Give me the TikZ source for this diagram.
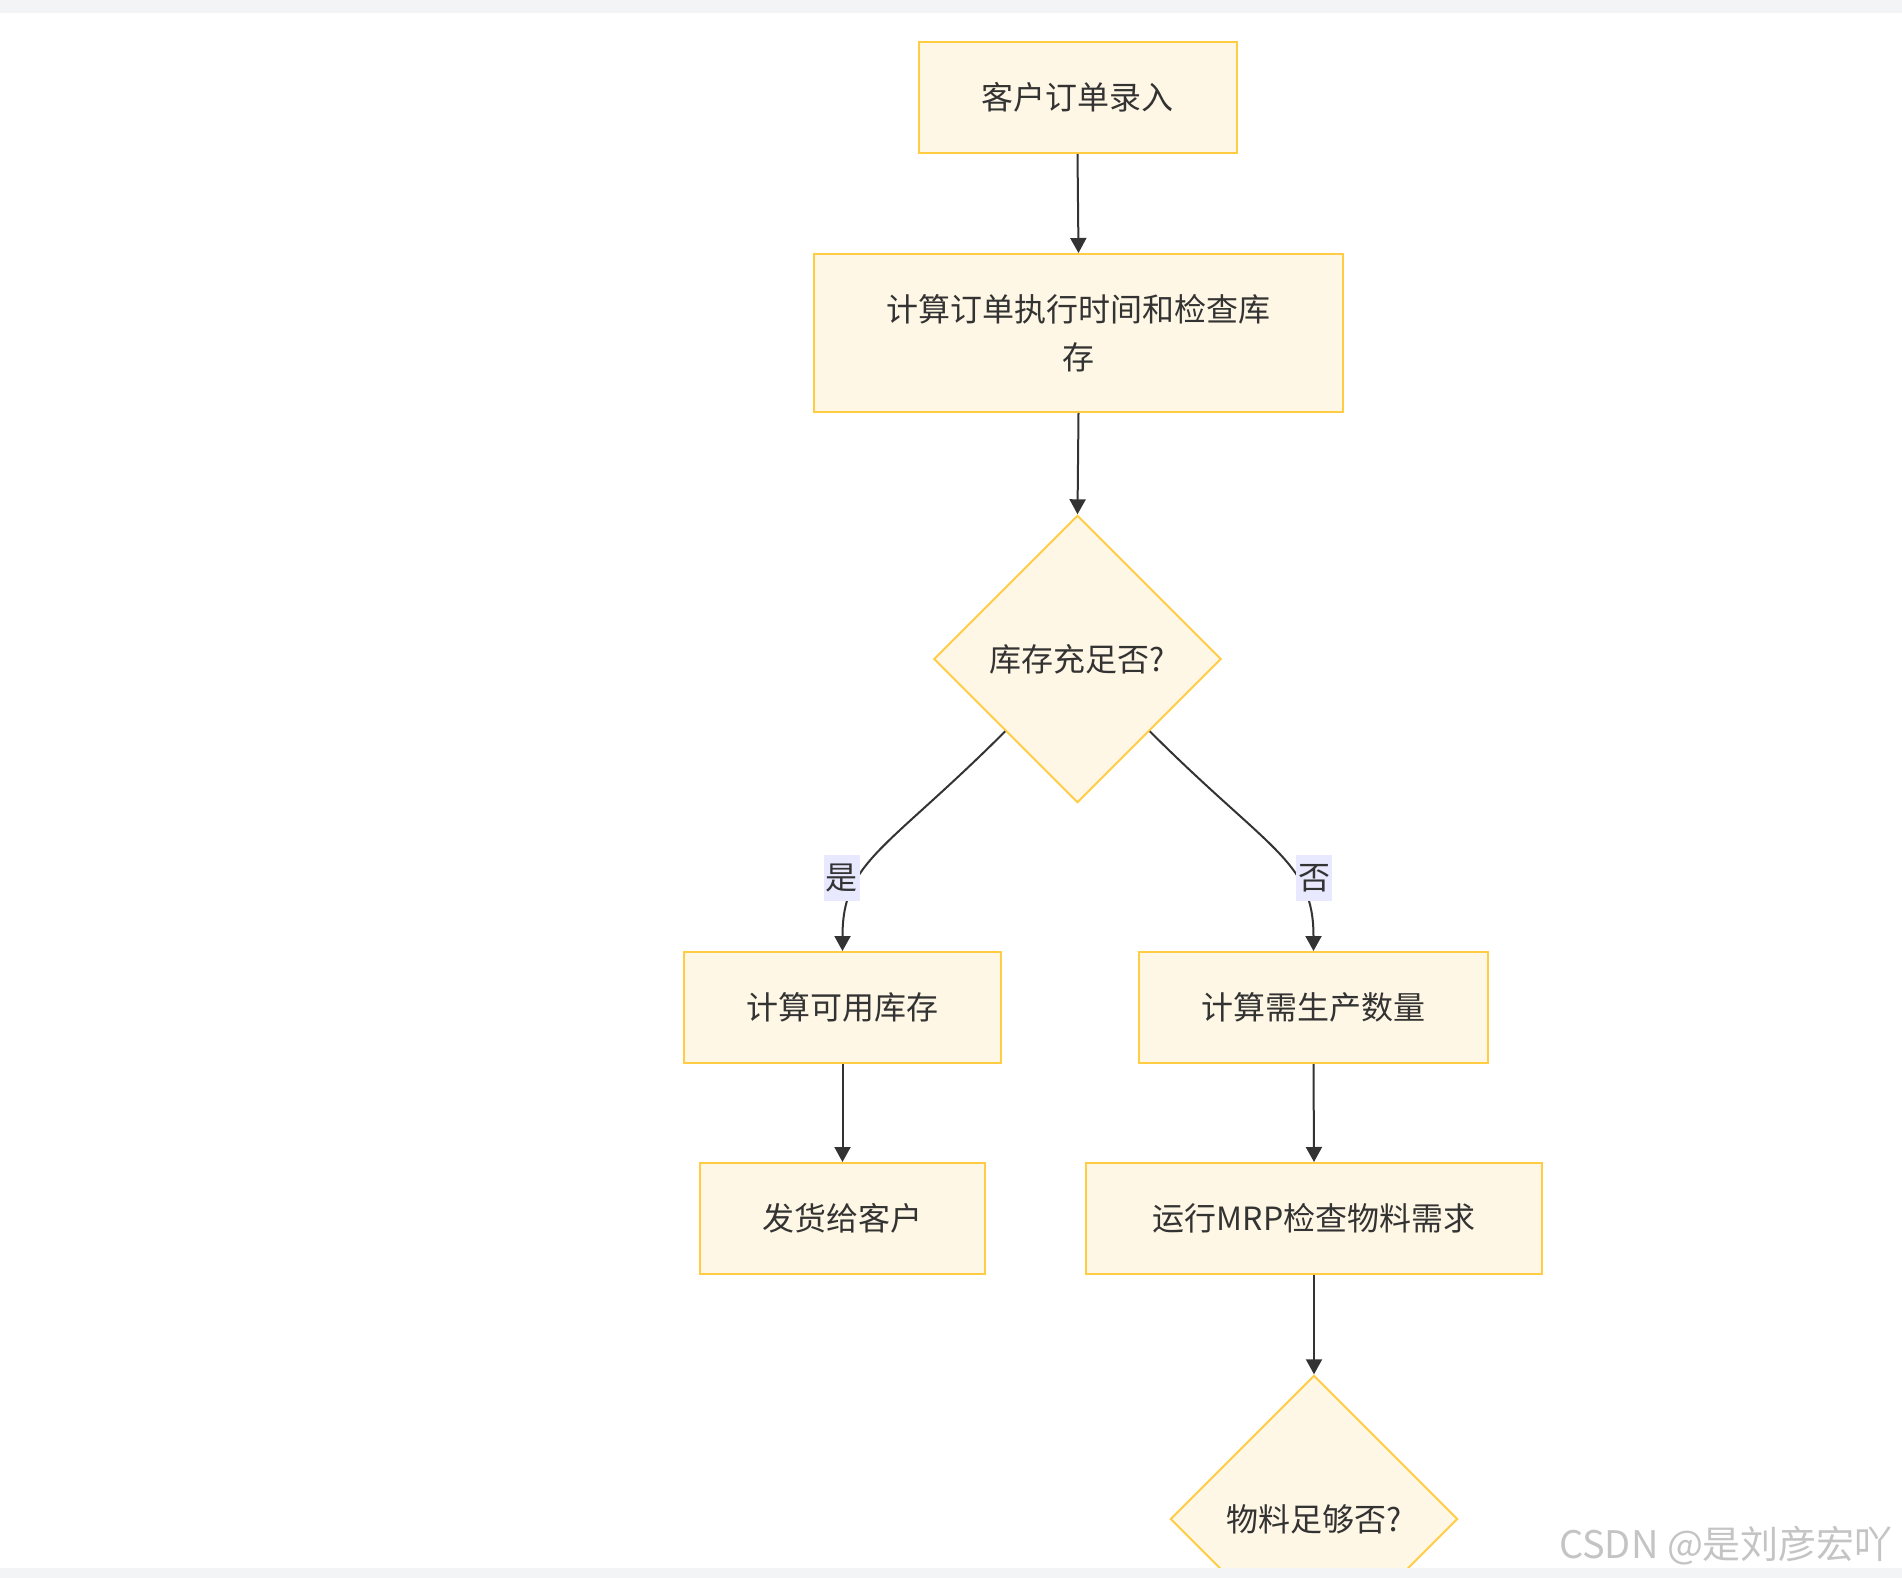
\documentclass[tikz,border=0pt]{standalone}
\usepackage{fontspec}
\setmainfont{Noto Sans CJK SC}
\usetikzlibrary{arrows.meta, shapes.geometric}
\definecolor{boxfill}{RGB}{255,247,229}
\definecolor{boxline}{RGB}{255,204,68}
\definecolor{inkgray}{RGB}{51,51,51}
\definecolor{edgebg}{RGB}{232,232,255}
\definecolor{bandgray}{RGB}{243,244,246}
\definecolor{markgray}{RGB}{196,196,196}

\begin{document}
\begin{tikzpicture}[x=0.5pt, y=-0.5pt,
  >={Triangle[length=7.5pt, width=8pt]},
  every node/.style={font=\fontsize{16pt}{24pt}\selectfont, text=inkgray},
  stepbox/.style={draw=boxline, fill=boxfill, line width=1pt, align=center,
                  inner sep=0pt, minimum height=55.5pt},
  decide/.style={diamond, aspect=1, draw=boxline, fill=boxfill, line width=1pt,
                 inner sep=0pt, minimum width=143.7pt, minimum height=143.7pt},
  flow/.style={->, line width=1pt, draw=inkgray},
  elab/.style={fill=edgebg, inner sep=1pt, minimum height=23pt}
]
\useasboundingbox (0,0) rectangle (1902,1578);
\fill[bandgray] (0,0) rectangle (1902,13);
\node[stepbox, minimum width=159pt] (order) at (1077.5,97.5) {客户订单录入};
\node[stepbox, minimum width=264.5pt, minimum height=79pt] (check) at (1078.5,333)
  {计算订单执行时间和检查库\\存};
\node[decide] (stock) at (1077.5,659) {库存充足否?};
\node[stepbox, minimum width=158.5pt] (avail) at (842.5,1007.5) {计算可用库存};
\node[stepbox, minimum width=174.5pt] (need)  at (1313.5,1007.5) {计算需生产数量};
\node[stepbox, minimum width=142.5pt] (ship)  at (842.5,1218.5) {发货给客户};
\node[stepbox, minimum width=228pt]   (mrp)   at (1314,1218.5) {运行MRP检查物料需求};
\node[decide] (matl) at (1314,1519) {物料足够否?};
\draw[flow] (order.south) -- (check.north);
\draw[flow] (check.south) -- (stock.north);
\draw[flow] (stock.south west) .. controls +(-120,120) and +(0,-90) ..
  node[elab, pos=0.65, xshift=-9pt] {是} (avail.north);
\draw[flow] (stock.south east) .. controls +(120,120) and +(0,-90) ..
  node[elab, pos=0.65, xshift=9pt] {否} (need.north);
\draw[flow] (avail.south) -- (ship.north);
\draw[flow] (need.south) -- (mrp.north);
\draw[flow] (mrp.south) -- (matl.north);
\node[anchor=east, text=markgray, font=\fontsize{19pt}{19pt}\selectfont] (mark)
  at (1900,1546) {CSDN @是刘彦宏吖};
\fill[bandgray] (0,1568) rectangle (1902,1578);
\end{tikzpicture}
\end{document}
